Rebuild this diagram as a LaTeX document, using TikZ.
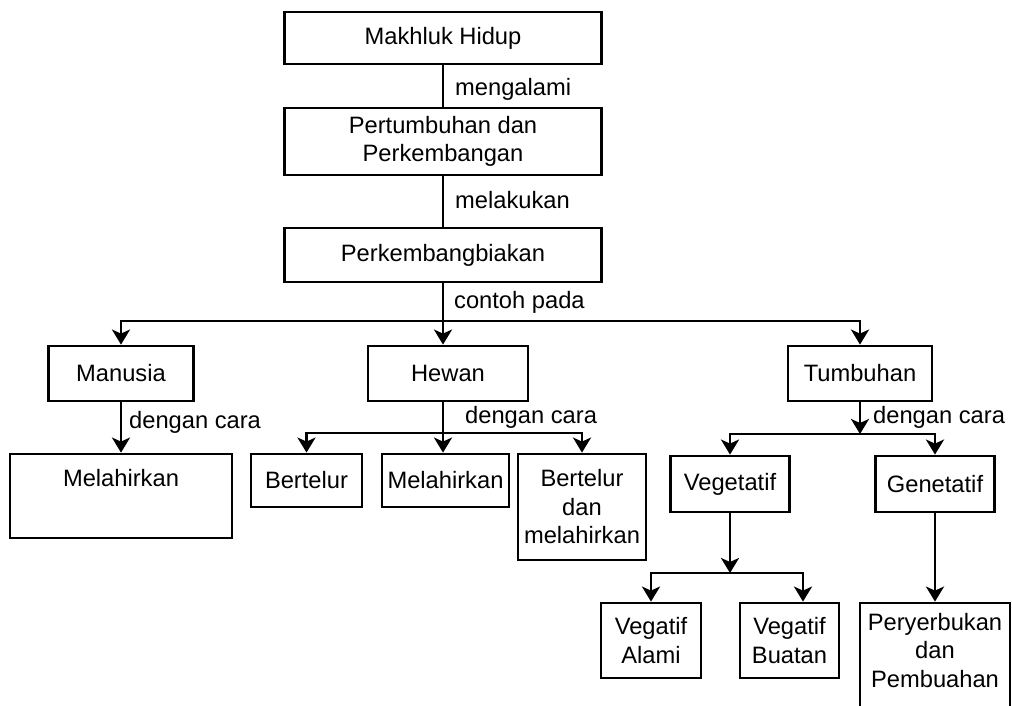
\documentclass[tikz,border=0pt]{standalone}
\usepackage{fontspec}
\setmainfont{Liberation Sans}
\usetikzlibrary{arrows.meta}
\begin{document}
\begin{tikzpicture}[x=1pt,y=-1pt,
  box/.style={draw,line width=2.8pt,rectangle,inner sep=2pt,align=center,font=\fontsize{23.7}{28.5}\selectfont},
  lbl/.style={anchor=west,inner sep=0pt,font=\fontsize{23.7}{28.5}\selectfont},
  conn/.style={line width=2.8pt},
  arr/.style={conn,-{Stealth[length=15pt,width=18pt,inset=4pt]}}]
\useasboundingbox (0,0) rectangle (1012,706);
% top chain
\node[box,minimum width=317pt,minimum height=52pt] (mh) at (443,38) {Makhluk Hidup};
\node[box,minimum width=317pt,minimum height=67pt] (pp) at (443,141.5) {Pertumbuhan dan\\Perkembangan};
\node[box,minimum width=317pt,minimum height=54pt] (pb) at (443,255) {Perkembangbiakan};
% level 2
\node[box,minimum width=145pt,minimum height=55pt] (man) at (121,373.5) {Manusia};
\node[box,minimum width=160pt,minimum height=55pt] (hew) at (448,373.5) {Hewan};
\node[box,minimum width=144pt,minimum height=55pt] (tum) at (860,373.5) {Tumbuhan};
% level 3
\node[box,minimum width=222pt,minimum height=84pt] (mel1) at (121,496) {Melahirkan\\\strut};
\node[box,minimum width=111pt,minimum height=53pt] (ber) at (306.5,480.5) {Bertelur};
\node[box,minimum width=127pt,minimum height=53pt,inner xsep=1pt] (mel2) at (445.5,480.5) {Melahirkan};
\node[box,minimum width=128pt,minimum height=106pt,inner xsep=1pt] (bdm) at (582,507) {Bertelur\\dan\\melahirkan};
\node[box,minimum width=119pt,minimum height=56pt] (veg) at (730,484) {Vegetatif};
\node[box,minimum width=119pt,minimum height=56pt] (gen) at (935,484) {Genetatif};
% level 4
\node[box,minimum width=100pt,minimum height=75pt] (val) at (651,640.5) {Vegatif\\Alami};
\node[box,minimum width=99pt,minimum height=75pt] (vbu) at (789.5,640.5) {Vegatif\\Buatan};
\node[box,minimum width=150pt,minimum height=109pt,align=none] (pery) at (935,657.5)
  {\raisebox{4.5pt}[\height][\depth]{\begin{tabular}{@{}c@{}}Peryerbukan\\dan\\Pembuahan\end{tabular}}};
% labels
\node[lbl] (l1) at (455,89) {mengalami};
\node[lbl] (l2) at (455,200) {melakukan};
\node[lbl] (l3) at (454,302) {contoh pada};
\node[lbl] (l4) at (129,422) {dengan cara};
\node[lbl] (l5) at (465,417) {dengan cara};
\node[lbl] (l6) at (873,417) {dengan cara};
% junctions
\coordinate (j1) at (443,321);
\coordinate (h1) at (443,433);
\coordinate (t1) at (860,434);
\coordinate (v1) at (730,573);
% connectors
\draw[conn] (mh.south) -- (pp.north);
\draw[conn] (pp.south) -- (pb.north);
\draw[conn] (pb.south) -- (j1);
\draw[arr] (j1) -| (man.north);
\draw[arr] (j1) -- (j1 |- hew.north);
\draw[arr] (j1) -| (tum.north);
\draw[arr] (man.south) -- (mel1.north);
\draw[conn] (h1 |- hew.south) -- (h1);
\draw[arr] (h1) -| (ber.north);
\draw[arr] (h1) -- (h1 |- mel2.north);
\draw[arr] (h1) -| (bdm.north);
\draw[arr] (tum.south) -- (t1);
\draw[arr] (t1) -| (veg.north);
\draw[arr] (t1) -| (gen.north);
\draw[arr] (veg.south) -- (v1);
\draw[arr] (v1) -| (val.north);
\draw[arr] (v1) -| ([xshift=13.5pt]vbu.north);
\draw[arr] (gen.south) -- (pery.north);
\end{tikzpicture}
\end{document}
